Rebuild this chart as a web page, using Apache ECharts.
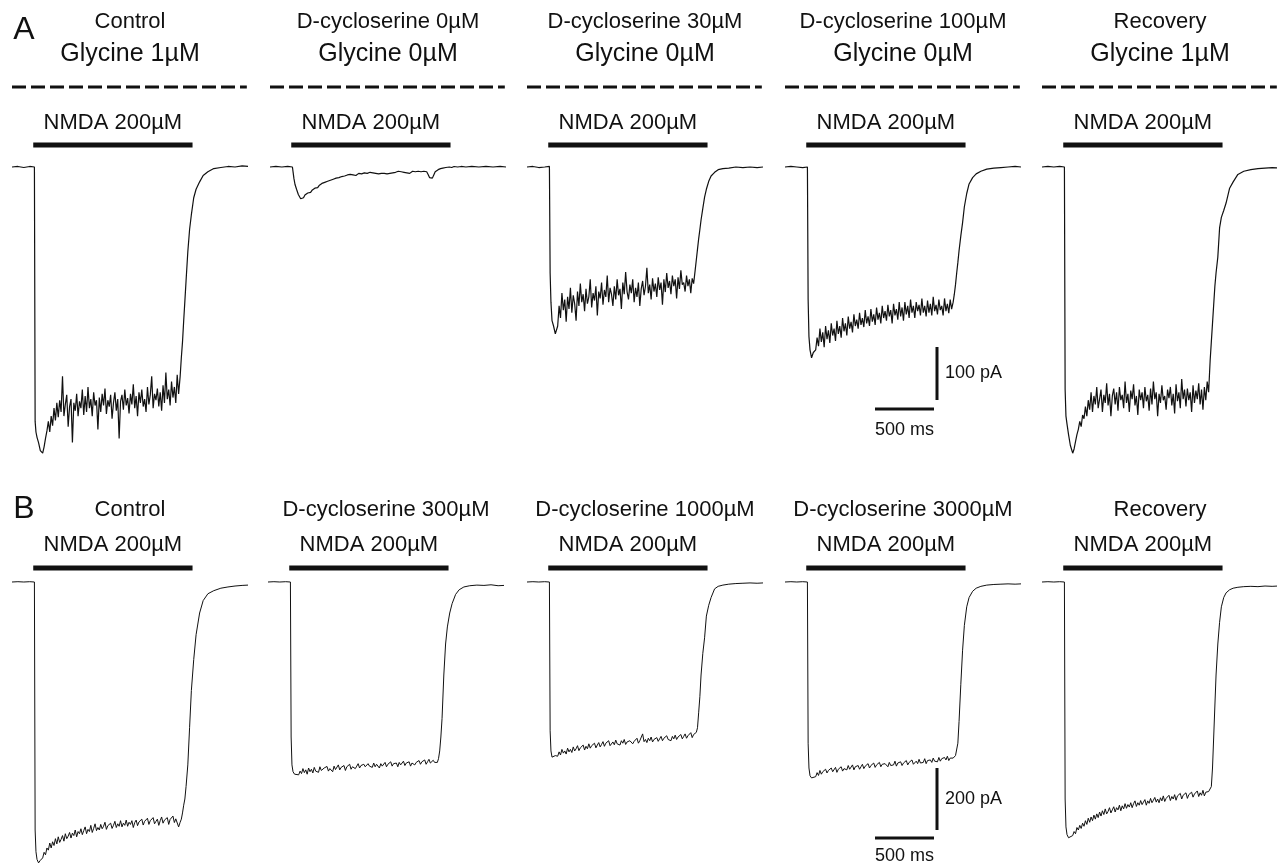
<!DOCTYPE html>
<html>
<head>
<meta charset="utf-8">
<title>NMDA currents and D-cycloserine</title>
<script src="https://cdn.jsdelivr.net/npm/echarts@6/dist/echarts.min.js"></script>
<style>
  html, body { margin: 0; padding: 0; background: #fff; }
  #chart { width: 1277px; height: 865px; }
</style>
</head>
<body>
<div id="chart"></div>
<script>
// sample times of every sweep (ms): baseline | onset | plateau | offset
const timeMs = [
  0, 50, 100, 150, 190,
  196, 203, 212, 225, 240,
  260, 272, 284, 296, 308, 320, 332, 344, 356, 368,
  380, 392, 404, 416, 428, 440, 452, 464, 476, 488,
  500, 512, 524, 536, 548, 560, 572, 584, 596, 608,
  620, 632, 644, 656, 668, 680, 692, 704, 716, 728,
  740, 752, 764, 776, 788, 800, 812, 824, 836, 848,
  860, 872, 884, 896, 908, 920, 932, 944, 956, 968,
  980, 992, 1004, 1016, 1028, 1040, 1052, 1064, 1076, 1088,
  1100, 1112, 1124, 1136, 1148, 1160, 1172, 1184, 1196, 1208,
  1220, 1232, 1244, 1256, 1268, 1280, 1292, 1304, 1316, 1328,
  1340, 1352, 1364, 1376, 1388, 1400, 1412,
  1425, 1435, 1445, 1455, 1465, 1475, 1490, 1505, 1520, 1540,
  1560, 1590, 1620, 1660, 1710, 1770, 1830, 1890, 1950, 2000
]

// NMDA application (ms)
const nmdaOnMs = 180
const nmdaOffMs = 1530
const sweepEndMs = 1990

// row A currents (pA)
const aControl = [
  0, 1, -1, 1, 0,
  -480, -500, -510, -520, -535,
  -540, -528, -512, -498, -480, -500, -470, -488, -455, -478,
  -445, -472, -440, -462, -395, -470, -448, -430, -490, -452,
  -438, -520, -445, -460, -428, -470, -442, -455, -420, -468,
  -432, -462, -415, -455, -438, -470, -425, -450, -440, -495,
  -435, -462, -428, -450, -418, -466, -440, -452, -430, -475,
  -445, -425, -460, -438, -512, -442, -430, -458, -420, -450,
  -436, -465, -428, -448, -410, -455, -432, -470, -425, -445,
  -420, -452, -438, -462, -415, -448, -430, -395, -455, -428,
  -440, -418, -452, -425, -460, -412, -445, -388, -438, -420,
  -450, -405, -435, -415, -445, -392, -428,
  -395, -360, -330, -290, -253, -215, -160, -118, -90, -58,
  -42, -28, -16, -9, -3, -1, 1, 0, 2, 1
]
const aDcs0 = [
  0, 1, 0, 1, 0,
  -10, -22, -33, -42, -52,
  -60, -57, -58, -53, -52, -49, -47, -48, -44, -42,
  -40, -38, -39, -35, -34, -31, -32, -29, -30, -27,
  -28, -25, -26, -23, -24, -21, -23, -20, -21, -18,
  -19, -17, -18, -15, -17, -14, -16, -15, -13, -16,
  -14, -12, -15, -13, -14, -11, -14, -12, -13, -10,
  -13, -11, -14, -12, -10, -13, -11, -12, -9, -12,
  -11, -13, -10, -12, -9, -11, -13, -10, -11, -8,
  -11, -9, -12, -10, -8, -11, -9, -12, -10, -8,
  -11, -9, -10, -8, -11, -9, -10, -8, -11, -9,
  -14, -20, -18, -21, -15, -9, -7,
  -5, -4, -3, -4, -2, -3, -1, -2, 0, -1,
  1, 0, 1, 0, 1, 0, 1, 0, 1, 0
]
const aDcs30 = [
  0, 1, -1, 0, 1,
  -200, -255, -290, -300, -315,
  -300, -262, -285, -238, -270, -250, -292, -245, -268, -228,
  -275, -242, -258, -290, -235, -262, -220, -255, -240, -272,
  -230, -258, -245, -212, -265, -238, -252, -225, -280, -235,
  -248, -218, -260, -232, -245, -205, -255, -228, -240, -262,
  -225, -250, -212, -242, -230, -268, -218, -240, -198, -235,
  -250, -222, -238, -212, -255, -228, -245, -218, -262, -230,
  -215, -242, -225, -190, -238, -222, -250, -210, -235, -220,
  -245, -208, -232, -218, -260, -212, -236, -200, -228, -215,
  -240, -205, -225, -212, -248, -208, -230, -195, -222, -218,
  -235, -205, -225, -212, -238, -210, -220,
  -195, -175, -155, -135, -118, -100, -78, -57, -42, -27,
  -17, -10, -5, -3, -2, 0, -1, 0, -1, 0
]
const aDcs100 = [
  0, 1, 0, -1, 0,
  -250, -320, -345, -360, -350,
  -345, -322, -338, -305, -330, -312, -340, -300, -325, -308,
  -332, -295, -318, -305, -328, -290, -315, -300, -322, -285,
  -310, -295, -318, -282, -305, -292, -312, -278, -300, -288,
  -305, -275, -298, -285, -302, -270, -295, -282, -300, -268,
  -292, -278, -298, -265, -288, -275, -295, -262, -285, -272,
  -290, -260, -282, -270, -295, -258, -280, -268, -288, -255,
  -282, -265, -290, -255, -278, -262, -285, -250, -275, -262,
  -285, -255, -272, -260, -280, -248, -275, -262, -282, -252,
  -275, -258, -280, -245, -272, -260, -278, -250, -270, -262,
  -280, -248, -272, -258, -276, -250, -268,
  -255, -240, -222, -200, -180, -158, -130, -105, -75, -50,
  -32, -20, -13, -8, -4, -2, -1, 0, 1, 0
]
const aRecovery = [
  0, 1, 0, 1, 0,
  -420, -470, -485, -505, -525,
  -540, -532, -518, -505, -495, -480, -490, -468, -475, -452,
  -470, -440, -458, -425, -462, -432, -448, -415, -455, -438,
  -420, -462, -430, -445, -408, -450, -428, -470, -432, -418,
  -448, -425, -460, -415, -440, -430, -455, -405, -445, -428,
  -462, -422, -438, -410, -450, -432, -468, -420, -440, -425,
  -455, -415, -442, -430, -460, -418, -448, -405, -438, -425,
  -470, -428, -445, -412, -440, -432, -458, -420, -436, -415,
  -450, -428, -465, -410, -442, -425, -455, -400, -438, -420,
  -452, -418, -440, -425, -462, -412, -445, -422, -438, -408,
  -448, -420, -458, -415, -440, -405, -425,
  -365, -330, -295, -260, -225, -200, -170, -115, -95, -82,
  -68, -40, -28, -14, -8, -5, -3, -2, -1, -2
]

// row B currents (pA)
const bControl = [
  0, 1, 0, 1, 0,
  -800, -870, -895, -906, -898,
  -890, -872, -880, -858, -865, -842, -858, -838, -850, -828,
  -845, -822, -840, -830, -818, -836, -812, -828, -820, -808,
  -826, -810, -818, -800, -822, -805, -812, -796, -815, -802,
  -790, -812, -798, -805, -785, -808, -795, -780, -802, -792,
  -800, -782, -796, -788, -775, -798, -786, -792, -778, -795,
  -785, -772, -792, -780, -788, -770, -790, -778, -785, -768,
  -788, -775, -782, -770, -792, -776, -768, -786, -774, -780,
  -765, -784, -772, -778, -762, -782, -770, -776, -760, -780,
  -772, -765, -785, -770, -758, -778, -768, -774, -760, -782,
  -766, -772, -755, -776, -764, -770, -790,
  -775, -765, -745, -720, -700, -660, -590, -470, -350, -250,
  -170, -100, -60, -38, -28, -20, -16, -13, -11, -10
]
const bDcs300 = [
  0, 1, 0, 1, 0,
  -500, -590, -612, -620, -615,
  -622, -610, -618, -602, -615, -606, -620, -600, -612, -604,
  -616, -598, -610, -605, -614, -596, -608, -612, -600, -606,
  -595, -610, -602, -598, -612, -594, -605, -600, -590, -606,
  -598, -604, -592, -608, -596, -600, -588, -604, -596, -590,
  -602, -594, -586, -600, -592, -598, -588, -596, -602, -586,
  -594, -590, -598, -584, -596, -588, -592, -600, -586, -594,
  -590, -582, -596, -588, -592, -580, -594, -586, -590, -584,
  -596, -582, -590, -586, -578, -592, -584, -588, -580, -594,
  -584, -578, -590, -582, -586, -576, -588, -580, -585, -574,
  -588, -580, -572, -584, -578, -575, -582,
  -585, -582, -570, -545, -500, -440, -300, -200, -145, -100,
  -70, -40, -25, -16, -12, -10, -11, -9, -12, -11
]
const bDcs1000 = [
  0, 1, 0, 1, 0,
  -480, -545, -565, -570, -560,
  -562, -548, -558, -540, -552, -545, -555, -536, -548, -540,
  -550, -532, -545, -538, -528, -544, -535, -540, -526, -542,
  -530, -538, -522, -536, -528, -532, -520, -535, -526, -518,
  -532, -524, -515, -530, -520, -526, -512, -528, -522, -516,
  -525, -510, -522, -518, -526, -512, -520, -508, -524, -516,
  -520, -512, -506, -522, -514, -518, -504, -520, -512, -508,
  -490, -515, -508, -518, -504, -512, -500, -516, -508, -512,
  -502, -514, -506, -498, -512, -504, -510, -496, -508, -502,
  -512, -498, -506, -494, -508, -500, -504, -492, -506, -498,
  -490, -504, -496, -500, -486, -502, -492,
  -495, -485, -470, -420, -370, -300, -230, -180, -110, -75,
  -50, -22, -14, -10, -7, -5, -4, -3, -4, -3
]
const bDcs3000 = [
  0, 1, 0, 1, 0,
  -520, -600, -625, -632, -628,
  -628, -615, -624, -608, -620, -612, -618, -604, -616, -608,
  -614, -600, -612, -606, -598, -614, -604, -608, -596, -610,
  -602, -598, -606, -592, -604, -598, -590, -606, -596, -600,
  -592, -604, -596, -588, -602, -594, -598, -586, -600, -592,
  -596, -584, -598, -590, -594, -582, -596, -588, -592, -586,
  -590, -596, -582, -592, -586, -590, -578, -594, -584, -588,
  -580, -592, -584, -588, -576, -590, -582, -586, -574, -588,
  -584, -578, -586, -572, -584, -578, -582, -570, -586, -576,
  -580, -574, -582, -568, -578, -572, -580, -566, -578, -570,
  -576, -566, -574, -562, -576, -568, -564,
  -568, -565, -560, -555, -520, -450, -330, -220, -140, -80,
  -50, -30, -20, -14, -10, -8, -7, -6, -7, -6
]
const bRecovery = [
  0, 1, 0, 1, 0,
  -700, -790, -815, -825, -820,
  -818, -805, -812, -792, -800, -785, -795, -778, -788, -770,
  -782, -762, -775, -758, -770, -752, -765, -748, -760, -742,
  -755, -738, -750, -732, -748, -740, -728, -745, -735, -725,
  -742, -728, -735, -720, -738, -722, -732, -715, -730, -718,
  -726, -712, -728, -715, -706, -724, -712, -720, -705, -718,
  -710, -702, -720, -706, -714, -698, -712, -704, -695, -710,
  -700, -712, -696, -706, -690, -708, -698, -702, -688, -705,
  -692, -700, -686, -704, -690, -696, -682, -700, -688, -694,
  -680, -698, -686, -692, -678, -694, -684, -688, -674, -692,
  -680, -688, -672, -690, -678, -684, -676,
  -670, -660, -600, -500, -400, -300, -200, -130, -80, -50,
  -35, -25, -20, -17, -15, -14, -15, -13, -14, -13
]

const rowATitles = ['Control', 'D-cycloserine 0µM', 'D-cycloserine 30µM', 'D-cycloserine 100µM', 'Recovery']
const rowAGlycine = ['Glycine 1µM', 'Glycine 0µM', 'Glycine 0µM', 'Glycine 0µM', 'Glycine 1µM']
const rowBTitles = ['Control', 'D-cycloserine 300µM', 'D-cycloserine 1000µM', 'D-cycloserine 3000µM', 'Recovery']
const drugLabel = 'NMDA 200µM'
const scaleBarMs = 500

const FONT = 'Liberation Sans, Arial, Helvetica, sans-serif'
const INK = '#111'
const PX_PER_MS = 0.118

const rows = [
  {
    letter: 'A', letterY: 30,
    traces: [aControl, aDcs0, aDcs30, aDcs100, aRecovery],
    titles: rowATitles, subTitles: rowAGlycine,
    lefts: [12, 270, 527, 785, 1042],
    baseY: 167, pxPerPa: 0.53, yMin: -560, yMax: 40, traceWidth: 1.2,
    titleY: 22, subY: 54, dashY: 87, drugTextY: 123, drugBarY: 145,
    scalePa: 100, vBarBottom: 400, hBarY: 409, msLabelY: 430
  },
  {
    letter: 'B', letterY: 509,
    traces: [bControl, bDcs300, bDcs1000, bDcs3000, bRecovery],
    titles: rowBTitles, subTitles: null,
    lefts: [12, 268, 527, 785, 1042],
    baseY: 582, pxPerPa: 0.31, yMin: -940, yMax: 40, traceWidth: 1,
    titleY: 510, subY: null, dashY: null, drugTextY: 545, drugBarY: 568,
    scalePa: 200, vBarBottom: 830, hBarY: 838, msLabelY: 856
  }
]

const chart = echarts.init(document.getElementById('chart'))

const grid = []
const xAxis = []
const yAxis = []
const series = []
rows.forEach(row => {
  row.traces.forEach((trace, i) => {
    const idx = grid.length
    grid.push({
      left: row.lefts[i],
      top: row.baseY - row.yMax * row.pxPerPa,
      width: 2000 * PX_PER_MS,
      height: (row.yMax - row.yMin) * row.pxPerPa,
      outerBoundsMode: 'none',
      show: false
    })
    xAxis.push({ type: 'value', gridIndex: idx, min: 0, max: 2000, show: false })
    yAxis.push({ type: 'value', gridIndex: idx, min: row.yMin, max: row.yMax, show: false })
    series.push({
      type: 'line',
      xAxisIndex: idx,
      yAxisIndex: idx,
      data: timeMs.map((t, k) => [t, trace[k]]),
      symbol: 'none',
      clip: false,
      lineStyle: { color: INK, width: row.traceWidth }
    })
  })
})

chart.setOption({
  animation: false,
  backgroundColor: '#fff',
  grid,
  xAxis,
  yAxis,
  series
})

// annotations placed through the panel axes
const text = (x, y, str, size, align) => ({
  type: 'text',
  x, y,
  silent: true,
  style: {
    text: str, fill: INK, fontSize: size, fontFamily: FONT,
    align: align || 'center', verticalAlign: 'middle'
  }
})
const line = (x1, y1, x2, y2, width, dash) => ({
  type: 'line',
  silent: true,
  shape: { x1, y1, x2, y2 },
  style: { stroke: INK, lineWidth: width, lineDash: dash || null }
})

const graphic = []
let gi = 0
rows.forEach(row => {
  graphic.push(text(24, row.letterY, row.letter, 32))
  row.traces.forEach((trace, i) => {
    const p0 = chart.convertToPixel({ gridIndex: gi }, [nmdaOnMs, 0])
    const p1 = chart.convertToPixel({ gridIndex: gi }, [nmdaOffMs, 0])
    const s0 = chart.convertToPixel({ gridIndex: gi }, [0, 0])
    const s1 = chart.convertToPixel({ gridIndex: gi }, [sweepEndMs, 0])
    const mid = row.lefts[i] + 118
    graphic.push(text(mid, row.titleY, row.titles[i], 22))
    if (row.subTitles) graphic.push(text(mid, row.subY, row.subTitles[i], 25))
    if (row.dashY) graphic.push(line(s0[0], row.dashY, s1[0], row.dashY, 3, [14, 5]))
    graphic.push(line(p0[0], row.drugBarY, p1[0], row.drugBarY, 5))
    graphic.push(text((p0[0] + p1[0]) / 2, row.drugTextY, drugLabel, 22))
    gi++
  })

  // scale bars from the fourth panel's axes
  const ref = gi - 2
  const o = chart.convertToPixel({ gridIndex: ref }, [0, 0])
  const t = chart.convertToPixel({ gridIndex: ref }, [scaleBarMs, -row.scalePa])
  const lenX = t[0] - o[0]
  const lenY = t[1] - o[1]
  const vx = 937
  graphic.push(line(vx, row.vBarBottom - lenY, vx, row.vBarBottom, 3))
  graphic.push(line(vx - 3 - lenX, row.hBarY, vx - 3, row.hBarY, 3))
  graphic.push(text(vx + 8, row.vBarBottom - lenY / 2, row.scalePa + ' pA', 18, 'left'))
  graphic.push(text(vx - 3 - lenX / 2, row.msLabelY, scaleBarMs + ' ms', 18))
})

chart.setOption({ graphic })
</script>
</body>
</html>
